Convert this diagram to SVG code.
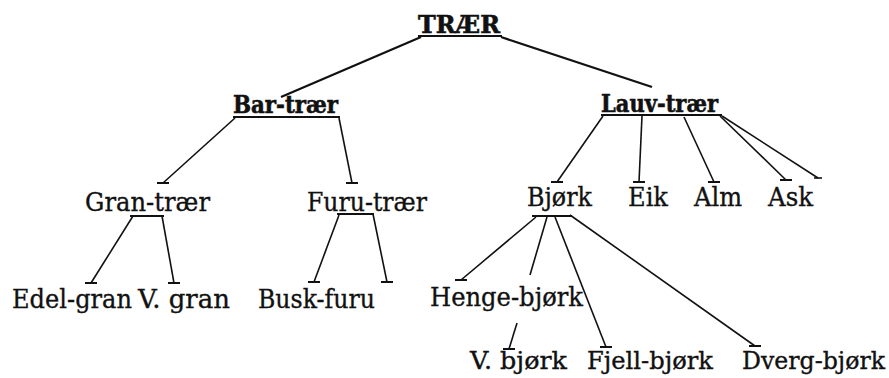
<svg xmlns="http://www.w3.org/2000/svg" width="889" height="378" viewBox="0 0 889 378">
  <style>
    .lbl { font-family: "DejaVu Serif", "Liberation Serif", serif; font-size: 26px; fill: #111; stroke: #111; stroke-width: 0.35; }
    .top { font-weight: bold; font-size: 24px; stroke-width: 0.6; }
    .low { font-size: 24px; }
    .edge { stroke: #111; stroke-width: 1.6; fill: none; marker-end: url(#tick); }
    .bar { stroke: #111; stroke-width: 2; fill: none; }
    .main { stroke: #111; stroke-width: 2.2; fill: none; }
    .plain { stroke: #111; stroke-width: 1.6; fill: none; }
  </style>
  <defs>
    <!-- horizontal end bar placed at each child end -->
    <marker id="tick" markerUnits="userSpaceOnUse" orient="0" markerWidth="16" markerHeight="6" refX="8" refY="3" overflow="visible">
      <path d="M2,3 H14" stroke="#111" stroke-width="2"/>
    </marker>
    <marker id="tickS" markerUnits="userSpaceOnUse" orient="0" markerWidth="12" markerHeight="6" refX="6" refY="3" overflow="visible">
      <path d="M2,3 H10" stroke="#111" stroke-width="1.6"/>
    </marker>
  </defs>

  <g id="connectors">
    <!-- root to first level -->
    <line class="main" x1="421" y1="37" x2="281" y2="97"/>
    <line class="main" x1="501" y1="37" x2="652" y2="87"/>

    <!-- Bar-trær -->
    <line class="edge" x1="235" y1="118" x2="163" y2="183"/>
    <line class="edge" x1="339" y1="118" x2="352" y2="183"/>

    <!-- Lauv-trær -->
    <line class="edge" x1="603" y1="116" x2="557" y2="182"/>
    <line class="edge" x1="642" y1="116" x2="639" y2="182"/>
    <line class="edge" x1="684" y1="117" x2="714" y2="182"/>
    <line class="edge" x1="720" y1="116" x2="786" y2="180"/>
    <line class="plain" x1="722" y1="116" x2="818" y2="178" marker-end="url(#tickS)"/>

    <!-- Gran-trær -->
    <line class="bar" x1="130" y1="216" x2="164" y2="216"/>
    <line class="edge" x1="133" y1="216" x2="91" y2="283"/>
    <line class="edge" x1="162" y1="216" x2="174" y2="283"/>

    <!-- Furu-trær -->
    <line class="bar" x1="337" y1="214" x2="374" y2="214"/>
    <line class="edge" x1="339" y1="215" x2="314" y2="282"/>
    <line class="edge" x1="373" y1="214" x2="387" y2="282"/>

    <!-- Bjørk -->
    <line class="bar" x1="532" y1="216" x2="572" y2="216"/>
    <line class="edge" x1="536" y1="217" x2="461" y2="280"/>
    <line class="plain" x1="547" y1="217" x2="530" y2="275"/>
    <line class="edge" x1="517" y1="323" x2="509" y2="349"/>
    <line class="edge" x1="555" y1="217" x2="606" y2="347"/>
    <line class="edge" x1="570" y1="215" x2="755" y2="346"/>
  </g>

  <g id="n-traer">
    <text class="lbl top" x="418" y="33" font-size="25" textLength="82" lengthAdjust="spacingAndGlyphs">TRÆR</text>
    <line class="bar" x1="418" y1="36" x2="502" y2="36"/>
  </g>
  <g id="n-bar-traer">
    <text class="lbl top" x="233" y="113" textLength="105" lengthAdjust="spacingAndGlyphs">Bar-trær</text>
    <line class="bar" x1="233" y1="117" x2="340" y2="117"/>
  </g>
  <g id="n-lauv-traer">
    <text class="lbl top" x="601" y="112" textLength="117" lengthAdjust="spacingAndGlyphs">Lauv-trær</text>
    <line class="bar" x1="601" y1="115" x2="722" y2="115"/>
  </g>
  <g id="n-gran-traer"><text class="lbl" x="85" y="211" textLength="125" lengthAdjust="spacingAndGlyphs">Gran-trær</text></g>
  <g id="n-furu-traer"><text class="lbl" x="307" y="211" textLength="120" lengthAdjust="spacingAndGlyphs">Furu-trær</text></g>
  <g id="n-bjork"><text class="lbl" x="527" y="206" textLength="65" lengthAdjust="spacingAndGlyphs">Bjørk</text></g>
  <g id="n-eik"><text class="lbl" x="628" y="206" textLength="40" lengthAdjust="spacingAndGlyphs">Eik</text></g>
  <g id="n-alm"><text class="lbl" x="694" y="206" textLength="48" lengthAdjust="spacingAndGlyphs">Alm</text></g>
  <g id="n-ask"><text class="lbl" x="768" y="206" textLength="45" lengthAdjust="spacingAndGlyphs">Ask</text></g>
  <g id="n-edel-gran"><text class="lbl" x="12" y="308" textLength="120" lengthAdjust="spacingAndGlyphs">Edel-gran</text></g>
  <g id="n-v-gran"><text class="lbl" x="138" y="308" textLength="92" lengthAdjust="spacingAndGlyphs">V. gran</text></g>
  <g id="n-busk-furu"><text class="lbl" x="258" y="308" textLength="117" lengthAdjust="spacingAndGlyphs">Busk-furu</text></g>
  <g id="n-henge-bjork"><text class="lbl" x="430" y="306" textLength="153" lengthAdjust="spacingAndGlyphs">Henge-bjørk</text></g>
  <g id="n-v-bjork"><text class="lbl low" x="470" y="369" textLength="97" lengthAdjust="spacingAndGlyphs">V. bjørk</text></g>
  <g id="n-fjell-bjork"><text class="lbl low" x="587" y="369" textLength="126" lengthAdjust="spacingAndGlyphs">Fjell-bjørk</text></g>
  <g id="n-dverg-bjork"><text class="lbl low" x="742" y="369" textLength="143" lengthAdjust="spacingAndGlyphs">Dverg-bjørk</text></g>
</svg>
